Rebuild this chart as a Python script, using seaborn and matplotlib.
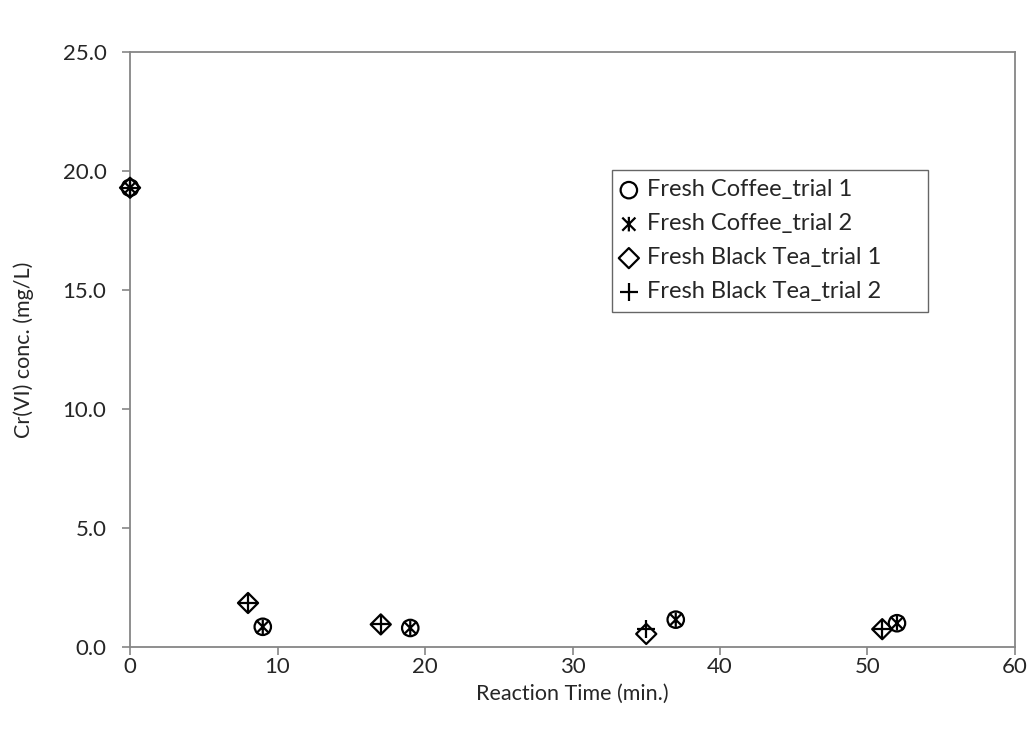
import matplotlib
matplotlib.use("Agg")
import matplotlib.pyplot as plt
from matplotlib.path import Path
import seaborn as sns
import numpy as np

sns.set_style("white")
plt.rcParams['font.family'] = ['Lato', 'DejaVu Sans']

# Data
coffee1_t = [0, 9, 19, 37, 52]
coffee1_c = [19.3, 0.85, 0.80, 1.15, 1.00]
coffee2_t = [0, 9, 19, 37, 52]
coffee2_c = [19.3, 0.85, 0.80, 1.15, 1.00]
tea1_t = [0, 8, 17, 35, 51]
tea1_c = [19.3, 1.85, 0.95, 0.55, 0.75]
tea2_t = [0, 8, 17, 35, 51]
tea2_c = [19.3, 1.85, 0.95, 0.75, 0.75]
labels = ["Fresh Coffee_trial 1", "Fresh Coffee_trial 2",
          "Fresh Black Tea_trial 1", "Fresh Black Tea_trial 2"]
xticks = [0, 10, 20, 30, 40, 50, 60]
yticks = [0.0, 5.0, 10.0, 15.0, 20.0, 25.0]

star = Path([(-0.9, -0.9), (0.9, 0.9), (-0.9, 0.9), (0.9, -0.9), (0, -1), (0, 1)],
            [Path.MOVETO, Path.LINETO, Path.MOVETO, Path.LINETO, Path.MOVETO, Path.LINETO])

fig = plt.figure(figsize=(10.32, 7.34), dpi=100)
ax = fig.add_axes([0.126, 0.1185, 0.8575, 0.8105])

series = [
    (coffee1_t, coffee1_c, 'o', 140, True),
    (coffee2_t, coffee2_c, star, 110, True),
    (tea1_t, tea1_c, 'D', 105, True),
    (tea2_t, tea2_c, '+', 170, False),
]
for (t, c, m, s, filled), lab in zip(series, labels):
    if filled:
        sns.scatterplot(x=t, y=c, marker=m, s=s, facecolor='none',
                        edgecolor='black', linewidth=1.6, ax=ax, label=lab,
                        clip_on=False, zorder=5)
    else:
        sns.scatterplot(x=t, y=c, marker=m, s=s, color='black',
                        linewidth=1.6, ax=ax, label=lab, clip_on=False, zorder=5)

ax.set_xlim(0, 60)
ax.set_ylim(0, 25)
ax.set_xticks(xticks)
ax.set_yticks(yticks)
ax.set_yticklabels([f"{v:.1f}" for v in yticks])
ax.tick_params(axis='both', direction='out', length=6, width=1.2,
               color='#868686', labelsize=16, left=True, bottom=True)
ax.tick_params(axis='y', pad=11)
ax.tick_params(axis='x', pad=1)
for sp in ax.spines.values():
    sp.set_color('#868686')
    sp.set_linewidth(1.3)
ax.set_xlabel("Reaction Time (min.)", fontsize=15.5)
ax.set_ylabel("Cr(VI) conc. (mg/L)", fontsize=15.5)
ax.xaxis.set_label_coords(0.5, -0.062)
ax.yaxis.set_label_coords(-0.108, 0.5)

lx, ltop = 0.545, 0.802
lw, lh = 0.357, 0.235
leg = ax.legend(loc='upper left', bbox_to_anchor=(lx, ltop - lh, lw, lh),
                mode='expand', fontsize=17,
                frameon=True, fancybox=False, edgecolor='#404040',
                handletextpad=0.45, handlelength=0.6, labelspacing=0.55,
                borderpad=0.4, borderaxespad=0)
leg.get_frame().set_linewidth(1.0)

fig.savefig("out.png", dpi=100)
